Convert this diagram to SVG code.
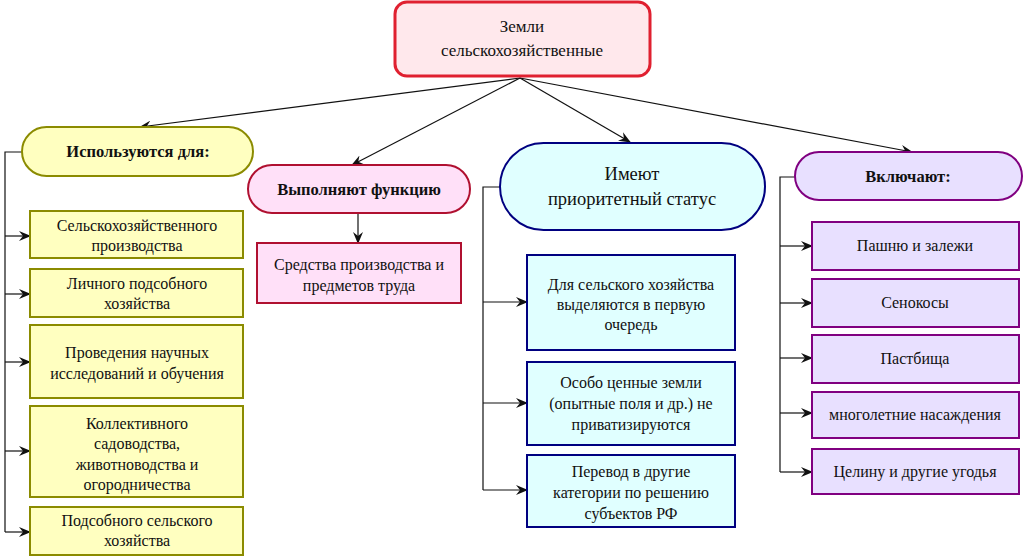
<svg xmlns="http://www.w3.org/2000/svg" width="1024" height="557" viewBox="0 0 1024 557" font-family="'Liberation Serif', 'Times New Roman', 'DejaVu Serif', serif">
<style>
text{font-size:16px;fill:#111;text-anchor:middle}
.b{font-weight:bold;font-size:16.5px}
.big{font-size:17px}
.big2{font-size:18.5px}
.l{stroke:#111;stroke-width:1.2;fill:none}
.la{stroke:#111;stroke-width:1.2;fill:none;marker-end:url(#ar)}
.y{fill:#ffffc0;stroke:#8b8b00;stroke-width:2}
.p{fill:#ffe0f8;stroke:#b01030;stroke-width:2}
.c{fill:#e0ffff;stroke:#000080;stroke-width:2}
.v{fill:#e8e0ff;stroke:#800080;stroke-width:2}
</style>
<defs><marker id="ar" viewBox="0 0 12 10" refX="11" refY="5" markerWidth="12" markerHeight="10" markerUnits="userSpaceOnUse" orient="auto"><path d="M0,0 L12,5 L0,10 L4,5 z" fill="#111"/></marker></defs>
<rect width="1024" height="557" fill="#fff"/>
<g id="connectors">
<line class="la" x1="520" y1="78" x2="140" y2="127"/>
<line class="la" x1="520" y1="78" x2="352" y2="165"/>
<line class="la" x1="520" y1="78" x2="630" y2="142"/>
<line class="la" x1="520" y1="78" x2="912" y2="152"/>
<polyline class="l" points="22,152 5,152 5,532"/>
<line class="la" x1="5" y1="236" x2="30" y2="236"/>
<line class="la" x1="5" y1="294" x2="30" y2="294"/>
<line class="la" x1="5" y1="362" x2="30" y2="362"/>
<line class="la" x1="5" y1="451" x2="30" y2="451"/>
<line class="la" x1="5" y1="532" x2="30" y2="532"/>
<line class="la" x1="358" y1="213" x2="358" y2="243"/>
<polyline class="l" points="500,187 483,187 483,490"/>
<line class="la" x1="483" y1="302" x2="527" y2="302"/>
<line class="la" x1="483" y1="403" x2="527" y2="403"/>
<line class="la" x1="483" y1="490" x2="527" y2="490"/>
<polyline class="l" points="795,177 780,177 780,472"/>
<line class="la" x1="780" y1="246" x2="812" y2="246"/>
<line class="la" x1="780" y1="303" x2="812" y2="303"/>
<line class="la" x1="780" y1="358" x2="812" y2="358"/>
<line class="la" x1="780" y1="413" x2="812" y2="413"/>
<line class="la" x1="780" y1="472" x2="812" y2="472"/>
</g>
<g id="root"><rect x="395" y="2" width="255" height="74" rx="12" fill="#ffe8ec" stroke="#e02030" stroke-width="3"/><text class="big" x="522" y="32">Земли</text><text class="big" x="522" y="56">сельскохозяйственные</text></g>
<g id="uses"><rect class="y" x="22" y="127" width="231" height="49" rx="24.5"/><text class="b" x="138" y="157">Используются для:</text></g>
<g id="u1"><rect class="y" x="30" y="211" width="213" height="47"/><text x="137" y="231">Сельскохозяйственного</text><text x="137" y="251">производства</text></g>
<g id="u2"><rect class="y" x="30" y="269" width="213" height="48"/><text x="137" y="289">Личного подсобного</text><text x="137" y="309">хозяйства</text></g>
<g id="u3"><rect class="y" x="30" y="325" width="213" height="73"/><text x="137" y="358">Проведения научных</text><text x="137" y="379">исследований и обучения</text></g>
<g id="u4"><rect class="y" x="30" y="406" width="213" height="91"/><text x="137" y="429">Коллективного</text><text x="137" y="449">садоводства,</text><text x="137" y="470">животноводства и</text><text x="137" y="490">огородничества</text></g>
<g id="u5"><rect class="y" x="30" y="507" width="213" height="48"/><text x="137" y="526">Подсобного сельского</text><text x="137" y="546">хозяйства</text></g>
<g id="func"><rect class="p" x="248" y="165" width="222" height="48" rx="24"/><text class="b" x="359" y="195">Выполняют функцию</text></g>
<g id="f1"><rect class="p" x="257" y="243" width="204" height="60" stroke="#c02040"/><text x="359" y="270">Средства производства и</text><text x="359" y="291">предметов труда</text></g>
<g id="prio"><rect class="c" x="500" y="143" width="265" height="87" rx="43.5"/><text class="big2" x="632" y="180">Имеют</text><text class="big2" x="632" y="205">приоритетный статус</text></g>
<g id="p1"><rect class="c" x="527" y="255" width="208" height="95"/><text x="631" y="290">Для сельского хозяйства</text><text x="631" y="310">выделяются в первую</text><text x="631" y="330">очередь</text></g>
<g id="p2"><rect class="c" x="527" y="362" width="208" height="83"/><text x="631" y="388">Особо ценные земли</text><text x="631" y="409">(опытные поля и др.) не</text><text x="631" y="430">приватизируются</text></g>
<g id="p3"><rect class="c" x="527" y="455" width="208" height="72"/><text x="631" y="477">Перевод в другие</text><text x="631" y="498">категории по решению</text><text x="631" y="519">субъектов РФ</text></g>
<g id="incl"><rect class="v" x="795" y="152" width="227" height="48" rx="24"/><text class="b" x="908" y="182">Включают:</text></g>
<g id="i1"><rect class="v" x="812" y="222" width="207" height="48"/><text x="915" y="251">Пашню и залежи</text></g>
<g id="i2"><rect class="v" x="812" y="279" width="207" height="48"/><text x="915" y="308">Сенокосы</text></g>
<g id="i3"><rect class="v" x="812" y="335" width="207" height="48"/><text x="915" y="364">Пастбища</text></g>
<g id="i4"><rect class="v" x="812" y="392" width="207" height="46"/><text x="915" y="420">многолетние насаждения</text></g>
<g id="i5"><rect class="v" x="812" y="449" width="207" height="45"/><text x="915" y="477">Целину и другие угодья</text></g>
</svg>
